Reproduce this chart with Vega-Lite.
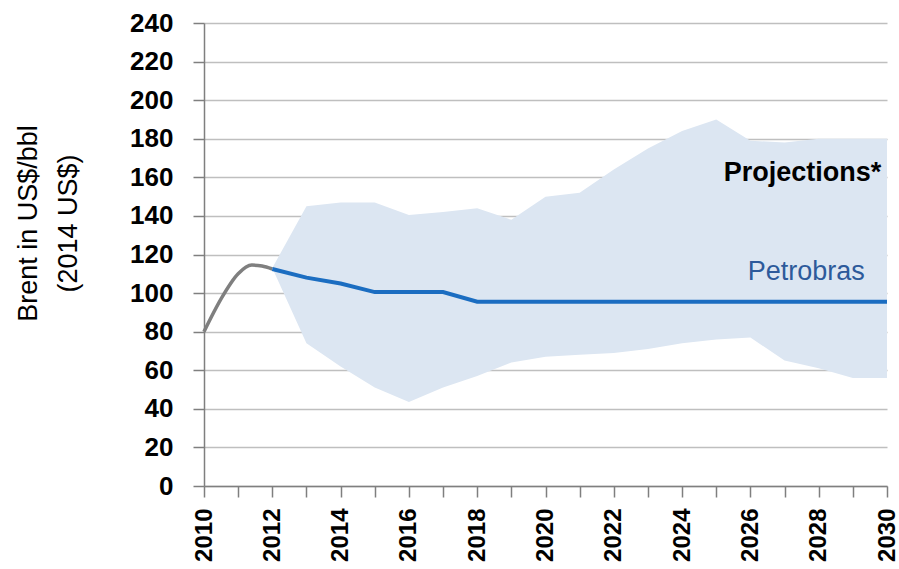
{
  "$schema": "https://vega.github.io/schema/vega-lite/v6.json",
  "autosize": "none",
  "width": 683,
  "height": 463,
  "padding": {"left": 204, "top": 23, "right": 12, "bottom": 83},
  "background": "white",
  "config": {
    "view": {"stroke": null},
    "font": "Liberation Sans",
    "axisX": {
      "labelAngle": -90,
      "labelAlign": "right",
      "labelBaseline": "middle",
      "labelFontSize": 24,
      "labelFontWeight": "bold",
      "labelColor": "black",
      "labelPadding": 11,
      "labelOverlap": false,
      "tickSize": 11,
      "tickColor": "#7f7f7f",
      "tickWidth": 1.5,
      "domainColor": "#7f7f7f",
      "domainWidth": 1.5,
      "grid": false
    },
    "axisY": {
      "labelFontSize": 26,
      "labelFontWeight": "bold",
      "labelColor": "black",
      "labelPadding": 20,
      "labelOverlap": false,
      "tickSize": 11,
      "tickColor": "#7f7f7f",
      "tickWidth": 1.5,
      "domainColor": "#7f7f7f",
      "domainWidth": 1.5,
      "grid": true,
      "gridColor": "#bfbfbf",
      "gridWidth": 1.5,
      "titleFontSize": 27,
      "titleFontWeight": "normal",
      "titleColor": "black"
    }
  },
  "datasets": {
    "band": [
      {"year": 2012, "low": 113, "price": 113},
      {"year": 2013, "low": 74, "price": 145},
      {"year": 2014, "low": 62, "price": 147},
      {"year": 2015, "low": 51, "price": 147},
      {"year": 2016, "low": 43.5, "price": 140.5},
      {"year": 2017, "low": 51, "price": 142},
      {"year": 2018, "low": 57, "price": 144},
      {"year": 2019, "low": 64, "price": 138},
      {"year": 2020, "low": 67, "price": 150},
      {"year": 2021, "low": 68, "price": 152},
      {"year": 2022, "low": 69, "price": 164},
      {"year": 2023, "low": 71, "price": 175},
      {"year": 2024, "low": 74, "price": 184},
      {"year": 2025, "low": 76, "price": 190},
      {"year": 2026, "low": 77, "price": 179},
      {"year": 2027, "low": 65, "price": 178},
      {"year": 2028, "low": 61, "price": 180},
      {"year": 2029, "low": 56, "price": 180},
      {"year": 2030, "low": 56, "price": 180}
    ],
    "hist": [
      {"year": 2010, "price": 80},
      {"year": 2010.5, "price": 97},
      {"year": 2011, "price": 110},
      {"year": 2011.4, "price": 114.5},
      {"year": 2011.7, "price": 114},
      {"year": 2012, "price": 112.5}
    ],
    "petro": [
      {"year": 2012, "price": 112.5},
      {"year": 2013, "price": 108},
      {"year": 2014, "price": 105},
      {"year": 2015, "price": 100.5},
      {"year": 2016, "price": 100.5},
      {"year": 2017, "price": 100.5},
      {"year": 2018, "price": 95.5},
      {"year": 2030, "price": 95.5}
    ],
    "notes": [
      {"label": "Projections*", "kind": "proj", "year": 2029.83, "price": 162},
      {"label": "Petrobras", "kind": "petro", "year": 2029.35, "price": 110.7}
    ]
  },
  "encoding": {
    "x": {
      "field": "year",
      "type": "quantitative",
      "scale": {"domain": [2010, 2030], "nice": false, "zero": false},
      "axis": {
        "title": null,
        "values": [2010,2011,2012,2013,2014,2015,2016,2017,2018,2019,2020,2021,2022,2023,2024,2025,2026,2027,2028,2029,2030],
        "labelExpr": "datum.value % 2 == 0 ? format(datum.value, 'd') : ''"
      }
    },
    "y": {
      "field": "price",
      "type": "quantitative",
      "scale": {"domain": [0, 240], "nice": false},
      "axis": {
        "values": [0,20,40,60,80,100,120,140,160,180,200,220,240],
        "title": ["Brent in US$/bbl", "(2014 US$)"],
        "titleLineHeight": 40,
        "titleX": -176,
        "titleY": 200,
        "titleAngle": -90,
        "titleAlign": "center",
        "titleBaseline": "middle"
      }
    }
  },
  "layer": [
    {
      "data": {"name": "band"},
      "mark": {"type": "area", "color": "#dce6f2", "opacity": 1},
      "encoding": {"y2": {"field": "low"}}
    },
    {
      "data": {"name": "hist"},
      "mark": {"type": "line", "color": "#7f7f7f", "strokeWidth": 3.5, "interpolate": "monotone"},
      "encoding": {}
    },
    {
      "data": {"name": "petro"},
      "mark": {"type": "line", "color": "#1b6dc1", "strokeWidth": 4},
      "encoding": {}
    },
    {
      "data": {"name": "notes"},
      "transform": [{"filter": "datum.kind == 'proj'"}],
      "mark": {"type": "text", "align": "right", "baseline": "middle", "fontSize": 27, "fontWeight": "bold", "color": "black"},
      "encoding": {"text": {"field": "label"}}
    },
    {
      "data": {"name": "notes"},
      "transform": [{"filter": "datum.kind == 'petro'"}],
      "mark": {"type": "text", "align": "right", "baseline": "middle", "fontSize": 27, "fontWeight": "normal", "color": "#2d5a9b"},
      "encoding": {"text": {"field": "label"}}
    }
  ]
}
